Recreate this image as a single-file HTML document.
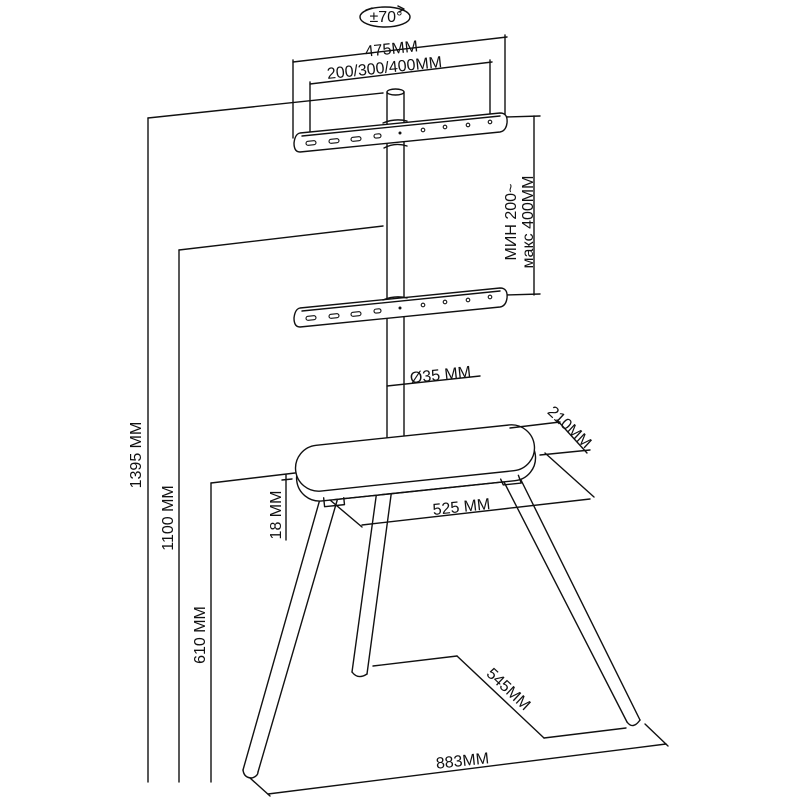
<!DOCTYPE html>
<html><head><meta charset="utf-8"><style>
html,body{margin:0;padding:0;background:#fff;}
svg{display:block;}
text{font-family:"Liberation Sans",sans-serif;font-size:16px;fill:#111;}
</style></head><body>
<svg width="800" height="800" viewBox="0 0 800 800" xmlns="http://www.w3.org/2000/svg">
<g fill="none" stroke="#111" stroke-width="1.4" stroke-linecap="round" stroke-linejoin="round">
<ellipse cx="385" cy="17" rx="25" ry="10"/>
<path d="M372 8 L366 10 M398 6 L404 9 L399 12" />
<line x1="293" y1="62" x2="507" y2="37"/>
<line x1="293" y1="60" x2="293" y2="138"/>
<line x1="505" y1="35" x2="505" y2="115"/>
<line x1="310" y1="84" x2="492" y2="62"/>
<line x1="310" y1="82" x2="310" y2="142"/>
<line x1="490" y1="60" x2="490" y2="123"/>
<line x1="148" y1="118" x2="383" y2="93"/>
<line x1="148" y1="118" x2="148" y2="782"/>
<line x1="179" y1="250" x2="383" y2="226"/>
<line x1="179" y1="250" x2="179" y2="782"/>
<line x1="211" y1="483" x2="295" y2="473"/>
<line x1="211" y1="483" x2="211" y2="782"/>
<line x1="286" y1="475" x2="286" y2="540"/>
<line x1="282" y1="480" x2="292" y2="479"/>
<line x1="505" y1="117" x2="540" y2="116"/>
<line x1="505" y1="295" x2="540" y2="294"/>
<line x1="534" y1="116" x2="534" y2="295"/>
<line x1="387" y1="92" x2="387" y2="440"/>
<line x1="404" y1="92" x2="404" y2="437"/>
<ellipse cx="395.5" cy="92" rx="8.5" ry="3"/>
<path d="M384 148 Q395 142 407 146"/>
<path d="M300 133 L500 113 Q508 113 507 123 Q506 131 500 132 L300 152 Q294 152 294 143 Q295 134 300 133 Z" fill="#fff"/>
<line x1="302" y1="136" x2="500" y2="116"/>
<path d="M383 123 Q395 118 407 121" />
<path d="M300 308 L500 288 Q508 288 507 298 Q506 306 500 307 L300 327 Q294 327 294 318 Q295 309 300 308 Z" fill="#fff"/>
<line x1="302" y1="311" x2="500" y2="291"/>
<path d="M383 300 Q395 295 407 298"/>
</g>
<g fill="none" stroke="#111" stroke-width="1.1">
<rect x="306" y="141" width="10" height="4" rx="2" transform="rotate(-6 311 143)"/>
<rect x="329" y="139" width="10" height="4" rx="2" transform="rotate(-6 334 141)"/>
<rect x="351" y="137" width="10" height="4" rx="2" transform="rotate(-6 356 139)"/>
<rect x="374" y="134" width="7" height="4" rx="2" transform="rotate(-6 377 136)"/>
<circle cx="423" cy="130" r="1.8"/><circle cx="445" cy="127" r="1.8"/><circle cx="468" cy="125" r="1.8"/><circle cx="490" cy="122" r="1.8"/>
<rect x="306" y="316" width="10" height="4" rx="2" transform="rotate(-6 311 318)"/>
<rect x="329" y="314" width="10" height="4" rx="2" transform="rotate(-6 334 316)"/>
<rect x="351" y="312" width="10" height="4" rx="2" transform="rotate(-6 356 314)"/>
<rect x="374" y="309" width="7" height="4" rx="2" transform="rotate(-6 377 311)"/>
<circle cx="423" cy="305" r="1.8"/><circle cx="445" cy="302" r="1.8"/><circle cx="468" cy="300" r="1.8"/><circle cx="490" cy="297" r="1.8"/>
</g>
<circle cx="400" cy="133" r="1.5" fill="#111"/><circle cx="400" cy="308" r="1.5" fill="#111"/>
<g fill="none" stroke="#111" stroke-width="1.4" stroke-linecap="round" stroke-linejoin="round">
<line x1="387" y1="386" x2="480" y2="376"/>
<!-- legs -->
<line x1="322" y1="492" x2="243" y2="770"/>
<line x1="339" y1="494" x2="258" y2="772"/>
<path d="M243 770 Q244 778 252 778 Q258 776 258 772"/>
<line x1="377" y1="490" x2="352" y2="672"/>
<line x1="392" y1="488" x2="367" y2="674"/>
<path d="M352 672 Q358 680 367 674"/>
<line x1="503" y1="480" x2="627" y2="722"/>
<line x1="519" y1="476" x2="640" y2="720"/>
<path d="M627 722 Q633 730 640 720"/>
<!-- tray -->
<g transform="rotate(-6 415 458)">
<rect x="295" y="445" width="240" height="46" rx="23" fill="#fff"/>
<rect x="295" y="435" width="240" height="46" rx="23" fill="#fff"/>
<line x1="330" y1="491" x2="500" y2="491"/>
<path d="M320 488 L320 497 L340 497 L340 490"/>
<path d="M498 488 L500 494 L518 494 L516 486"/>
</g>
<!-- 210 -->
<line x1="510" y1="428" x2="560" y2="422"/>
<line x1="540" y1="455" x2="590" y2="450"/>
<line x1="557" y1="420" x2="587" y2="453"/>
<!-- 525 -->
<line x1="330" y1="500" x2="362" y2="527"/>
<line x1="545" y1="453" x2="594" y2="497"/>
<line x1="362" y1="525" x2="590" y2="499"/>
<!-- 545 -->
<line x1="373" y1="666" x2="457" y2="656"/>
<line x1="457" y1="656" x2="544" y2="738"/>
<line x1="544" y1="738" x2="626" y2="728"/>
<!-- 883 -->
<line x1="250" y1="778" x2="270" y2="796"/>
<line x1="645" y1="724" x2="668" y2="746"/>
<line x1="268" y1="794" x2="666" y2="744"/>
</g>
<text x="386" y="22" text-anchor="middle" font-size="14">±70°</text>
<text x="392" y="54" text-anchor="middle" transform="rotate(-6 392 54)">475MM</text>
<text x="385" y="73" text-anchor="middle" transform="rotate(-6 385 73)">200/300/400MM</text>
<text x="141" y="455" text-anchor="middle" transform="rotate(-90 141 455)">1395 MM</text>
<text x="173" y="518" text-anchor="middle" transform="rotate(-90 173 518)">1100 MM</text>
<text x="205" y="635" text-anchor="middle" transform="rotate(-90 205 635)">610 MM</text>
<text x="281" y="515" text-anchor="middle" transform="rotate(-90 281 515)">18 MM</text>
<text x="516" y="222" text-anchor="middle" transform="rotate(-90 516 222)">МИН 200~</text>
<text x="533" y="222" text-anchor="middle" transform="rotate(-90 533 222)">макс 400ММ</text>
<text x="441" y="380" text-anchor="middle" transform="rotate(-6 441 380)">Ø35 MM</text>
<text x="566" y="431" text-anchor="middle" transform="rotate(43 566 431)">210MM</text>
<text x="462" y="512" text-anchor="middle" transform="rotate(-6 462 512)">525 MM</text>
<text x="505" y="693" text-anchor="middle" transform="rotate(43 505 693)">545MM</text>
<text x="463" y="766" text-anchor="middle" transform="rotate(-6 463 766)">883MM</text>
</svg>
</body></html>
